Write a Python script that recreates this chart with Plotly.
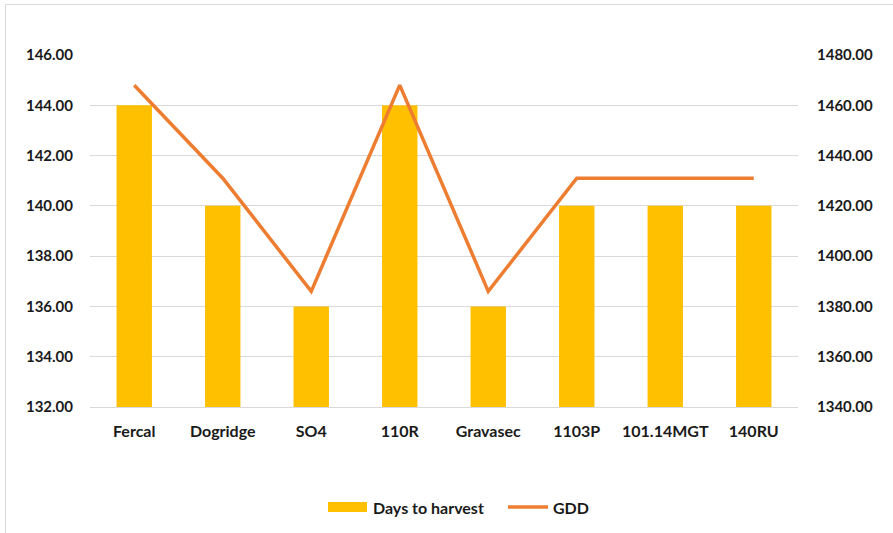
import plotly.graph_objects as go

# Rootstock data
rootstocks = ["Fercal", "Dogridge", "SO4", "110R", "Gravasec", "1103P", "101.14MGT", "140RU"]
days_to_harvest = [144, 140, 136, 144, 136, 140, 140, 140]
gdd = [1468, 1431, 1386, 1468, 1386, 1431, 1431, 1431]

BAR_COLOR = "#FFC000"
LINE_COLOR = "#ED7D31"
TEXT_COLOR = "#1a1a1a"
FAMILY = "Lato, Open Sans, sans-serif"

# plot area in pixels: x 90..798, y 55..407
PL, PR, PT, PB = 90, 798, 55, 407
W, H = 893, 533


def px_x(p):
    return (p - PL) / (PR - PL)


def px_y(p):
    return (PB - p) / (PB - PT)


tick_font = dict(family=FAMILY, size=15, color=TEXT_COLOR, weight="bold")
cat_font = dict(family=FAMILY, size=16, color=TEXT_COLOR, weight="bold")

fig = go.Figure()
fig.add_trace(go.Bar(
    x=rootstocks, y=days_to_harvest, name="Days to harvest",
    marker=dict(color=BAR_COLOR, line=dict(width=0)),
    yaxis="y", showlegend=False,
))
fig.add_trace(go.Scatter(
    x=rootstocks, y=gdd, name="GDD", mode="lines",
    line=dict(color=LINE_COLOR, width=3.5),
    yaxis="y2", showlegend=False,
))

fig.update_layout(
    width=W, height=H,
    margin=dict(l=PL, r=W - PR, t=PT, b=H - PB),
    paper_bgcolor="white", plot_bgcolor="white",
    font=dict(family=FAMILY, size=15, color=TEXT_COLOR),
    bargap=0.6,
    xaxis=dict(showgrid=False, showline=True, linecolor="#D9D9D9", linewidth=1,
               ticks="", ticklabelstandoff=10, tickfont=cat_font),
    yaxis=dict(range=[132, 146], dtick=2, tickformat=".2f", showgrid=True,
               gridcolor="#D9D9D9", gridwidth=1, zeroline=False, showline=False, ticks="",
               ticklabelstandoff=16, tickfont=tick_font),
    yaxis2=dict(range=[1340, 1480], dtick=20, tickformat=".2f", overlaying="y", side="right",
                showgrid=False, zeroline=False, showline=False, ticks="",
                ticklabelstandoff=18, tickfont=tick_font),
)

# legend: series swatches with their names
LEG_Y = 507
fig.add_shape(type="rect", xref="paper", yref="paper",
              x0=px_x(328), x1=px_x(367), y0=px_y(512), y1=px_y(502),
              fillcolor=BAR_COLOR, line=dict(width=0))
fig.add_annotation(xref="paper", yref="paper", x=px_x(371), y=px_y(LEG_Y),
                   xanchor="left", yanchor="middle", showarrow=False,
                   text=fig.data[0].name, font=cat_font)
fig.add_shape(type="line", xref="paper", yref="paper",
              x0=px_x(508), x1=px_x(548), y0=px_y(LEG_Y), y1=px_y(LEG_Y),
              line=dict(color=LINE_COLOR, width=3.5))
fig.add_annotation(xref="paper", yref="paper", x=px_x(551), y=px_y(LEG_Y),
                   xanchor="left", yanchor="middle", showarrow=False,
                   text=fig.data[1].name, font=cat_font)

# chart area border (top and left edges)
fig.add_shape(type="line", xref="paper", yref="paper",
              x0=px_x(5.5), x1=px_x(900), y0=px_y(4.5), y1=px_y(4.5),
              line=dict(color="#D9D9D9", width=1))
fig.add_shape(type="line", xref="paper", yref="paper",
              x0=px_x(5.5), x1=px_x(5.5), y0=px_y(4.5), y1=px_y(540),
              line=dict(color="#D9D9D9", width=1))

fig.write_html("out.html")
